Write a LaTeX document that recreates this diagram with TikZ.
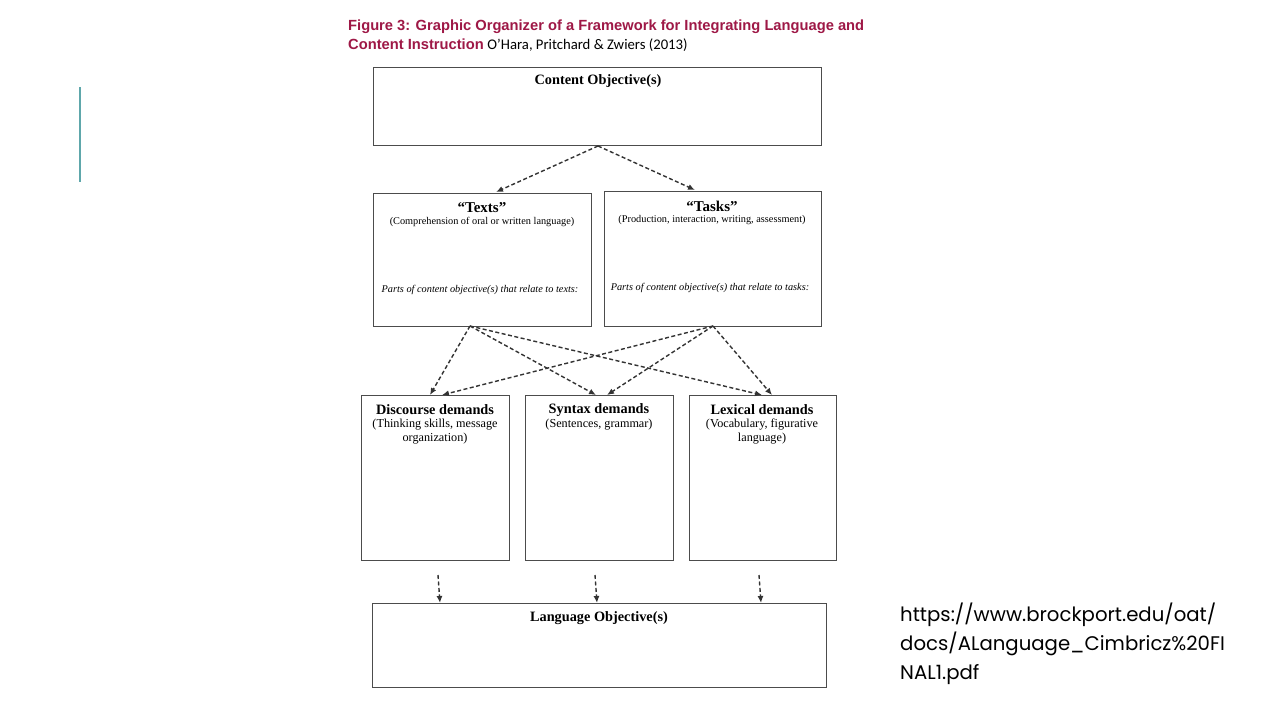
\documentclass[tikz,border=0pt]{standalone}
\usepackage{fontspec}
\setmainfont{Liberation Serif}
\newfontfamily\arialf{Liberation Sans}
\newfontfamily\calf{Carlito}
\newfontfamily\urlf{Poppins}
\usetikzlibrary{arrows.meta}
\definecolor{titlered}{HTML}{9E1846}
\definecolor{teal}{HTML}{5EA7AB}
\begin{document}
\begin{tikzpicture}[x=1pt,y=-1pt,
  box/.style={draw=black!70,line width=1.4pt},
  conn/.style={dash pattern=on 4pt off 2.5pt,line width=1.4pt,draw=black!80,-{Latex[length=7pt,width=6pt]}},
  ttl/.style={font=\bfseries\fontsize{14.3}{16}\selectfont,inner sep=0pt},
  sub/.style={font=\fontsize{10.3}{13}\selectfont,inner sep=0pt,align=center},
  sub2/.style={font=\fontsize{12.2}{14}\selectfont,inner sep=0pt,align=center,anchor=north},
  itl/.style={font=\itshape\fontsize{10.3}{12}\selectfont,inner sep=0pt}]
\useasboundingbox (0,0) rectangle (1280,720);
\fill[white] (0,0) rectangle (1280,720);
\draw[teal,line width=2pt] (80,87) -- (80,182);
% title
\node[anchor=west,inner sep=0pt,text=titlered,font=\arialf\bfseries\fontsize{14.7}{17}\selectfont] (t1) at (348,27) {Figure 3: Graphic Organizer of a Framework for Integrating Language and};
\node[anchor=west,inner sep=0pt,font=\fontsize{14.7}{17}\selectfont] (t2) at (348,45) {{\arialf\bfseries\color{titlered}Content Instruction} {\calf O’Hara, Pritchard \& Zwiers (2013)}};
% boxes
\node[box,anchor=north west,minimum width=448pt,minimum height=78pt] (co) at (373,67) {};
\node[ttl] at (598,81) {Content Objective(s)};
\node[box,anchor=north west,minimum width=218pt,minimum height=133pt] (tx) at (373,193) {};
\node[ttl,font=\bfseries\fontsize{15}{17}\selectfont] at (482,208) {“Texts”};
\node[sub] at (482,222) {(Comprehension of oral or written language)};
\node[itl] at (480,290) {Parts of content objective(s) that relate to texts:};
\node[box,anchor=north west,minimum width=217pt,minimum height=135pt] (tk) at (604,191) {};
\node[ttl,font=\bfseries\fontsize{15}{17}\selectfont] at (712,206) {“Tasks”};
\node[sub] at (712,220) {(Production, interaction, writing, assessment)};
\node[itl] at (710,288) {Parts of content objective(s) that relate to tasks:};
\node[box,anchor=north west,minimum width=148pt,minimum height=165pt] (dd) at (361,395) {};
\node[ttl] at (435,410) {Discourse demands};
\node[sub2] at (435,419) {(Thinking skills, message\\organization)};
\node[box,anchor=north west,minimum width=148pt,minimum height=165pt] (sd) at (525,395) {};
\node[ttl] at (599,410) {Syntax demands};
\node[sub2] at (599,419) {(Sentences, grammar)};
\node[box,anchor=north west,minimum width=147pt,minimum height=165pt] (ld) at (689,395) {};
\node[ttl] at (762,410) {Lexical demands};
\node[sub2] at (762,419) {(Vocabulary, figurative\\language)};
\node[box,anchor=north west,minimum width=454pt,minimum height=84pt] (lo) at (372,603) {};
\node[ttl] at (599,618) {Language Objective(s)};
% connectors
\coordinate (cob) at (598,146);
\coordinate (txb) at (470,326);
\coordinate (tkb) at (713,326);
\draw[conn] (cob) -- (496,192);
\draw[conn] (cob) -- (695,190);
\draw[conn] (txb) -- (430,395);
\draw[conn] (txb) -- (596,395);
\draw[conn] (txb) -- (762,395);
\draw[conn] (tkb) -- (442,395);
\draw[conn] (tkb) -- (607,395);
\draw[conn] (tkb) -- (772,395);
\draw[conn] (438,575) -- (440,603);
\draw[conn] (595,575) -- (597,603);
\draw[conn] (759,575) -- (761,603);
% url
\node[anchor=north west,inner sep=0pt,align=left,font=\urlf\fontsize{19.7}{29}\selectfont] (url) at (900,603) {https://www.brockport.edu/oat/\\docs/ALanguage\_Cimbricz\%20FI\\NAL1.pdf};
\end{tikzpicture}
\end{document}
